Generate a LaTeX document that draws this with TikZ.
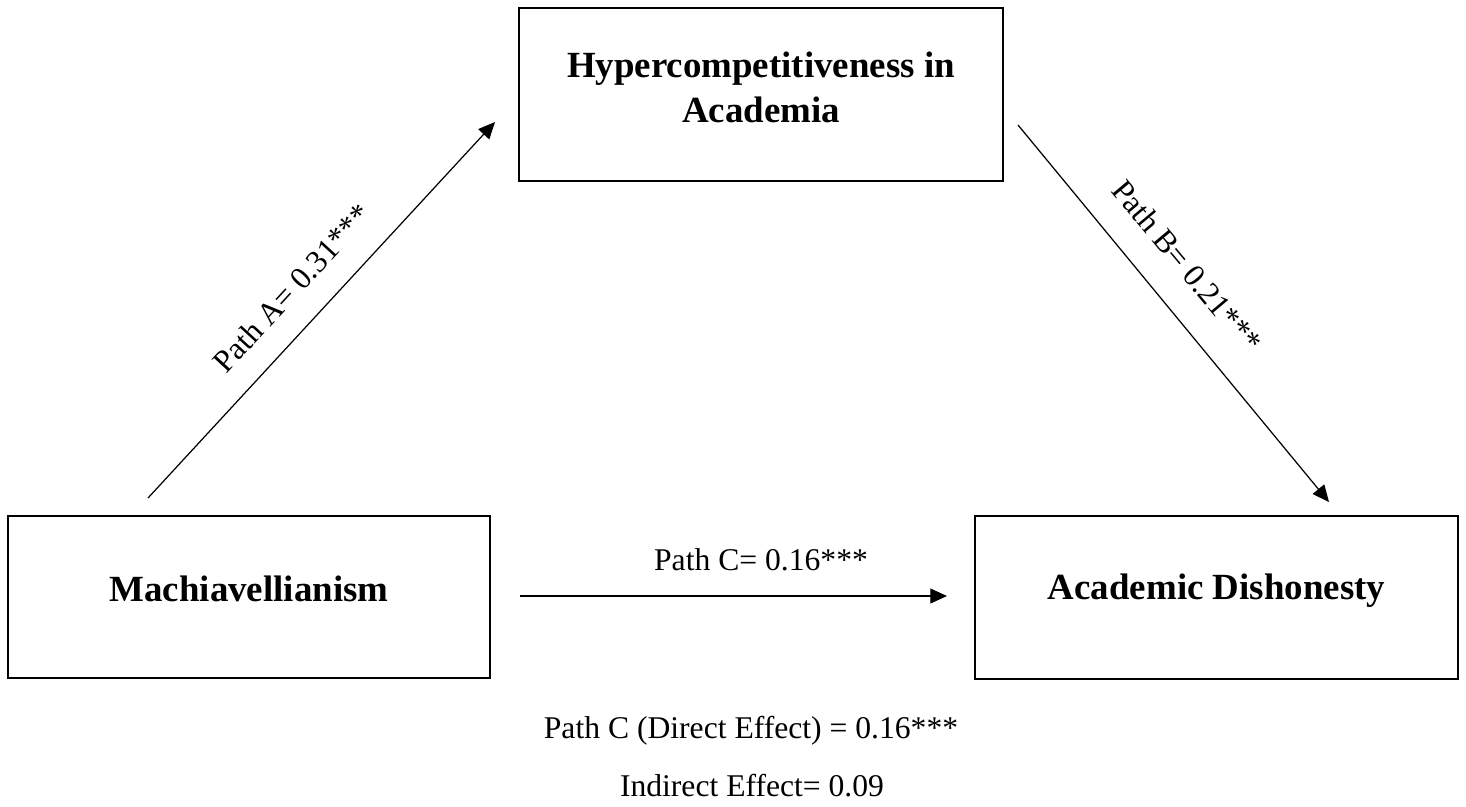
\documentclass[tikz,border=0pt]{standalone}
\usepackage{fontspec}
\setmainfont{Liberation Serif}
\usetikzlibrary{arrows.meta}
\begin{document}
\begin{tikzpicture}[x=0.02cm,y=-0.02cm,
  box/.style={draw=black,line width=1.3pt,rectangle,inner sep=0pt},
  title/.style={font=\fontsize{21}{25.6}\selectfont\bfseries,align=center,inner sep=0pt},
  lab/.style={font=\fontsize{18}{22}\selectfont,inner sep=0pt},
  conn/.style={line width=0.7pt,-{Triangle[length=9.5pt,width=8.5pt]}}]
\useasboundingbox (0,0) rectangle (1466,806);
\node[box,minimum width=484*0.02cm,minimum height=173*0.02cm] (hyp) at (761,94.5) {};
\node[title] (hypt) at (761,87) {Hypercompetitiveness in\\Academia};
\node[box,minimum width=482*0.02cm,minimum height=162*0.02cm] (mach) at (249,597) {};
\node[title] (macht) at (249,589) {Machiavellianism};
\node[box,minimum width=483*0.02cm,minimum height=163*0.02cm] (acad) at (1216.5,597.5) {};
\node[title] (acadt) at (1216.5,591) {Academic Dishonesty};
\coordinate (a1) at (148,498);
\coordinate (a2) at (495,122);
\coordinate (b1) at (1018,125);
\coordinate (b2) at (1329,502);
\coordinate (c1) at (520,596);
\coordinate (c2) at (947,596);
\draw[conn] (a1) -- (a2);
\draw[conn] (b1) -- (b2);
\draw[conn] (c1) -- (c2);
\node[lab,rotate=47.3] (pa) at (292,288) {Path A= 0.31***};
\node[lab,rotate=-50] (pb) at (1187,266) {Path B= 0.21***};
\node[lab] (pc) at (761,560) {Path C= 0.16***};
\node[lab] (direct) at (751,731) {Path C (Direct Effect) = 0.16***};
\node[lab] (indirect) at (752,786) {Indirect Effect= 0.09};
\end{tikzpicture}
\end{document}
